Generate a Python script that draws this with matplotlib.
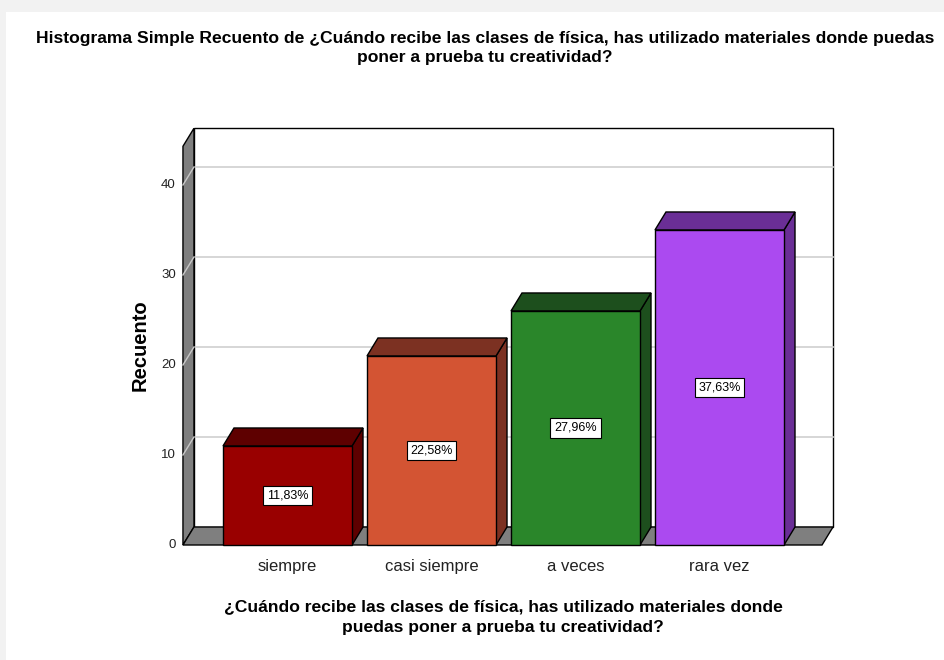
import matplotlib.pyplot as plt
from matplotlib.patches import Polygon, Rectangle

plt.rcParams['font.family'] = ['Liberation Sans', 'DejaVu Sans']

# data
categories = ['siempre', 'casi siempre', 'a veces', 'rara vez']
counts = [11, 21, 26, 35]
front_colors = ['#990000', '#d35433', '#2a862a', '#ab4af0']
side_colors = ['#5e0000', '#7c3122', '#1d4f1d', '#6a2e96']
y_ticks = [0, 10, 20, 30, 40]

title = ("Histograma Simple Recuento de ¿Cuándo recibe las clases de física, has utilizado materiales donde puedas\n"
         "poner a prueba tu creatividad?")
xlabel = ("¿Cuándo recibe las clases de física, has utilizado materiales donde\n"
          "puedas poner a prueba tu creatividad?")
ylabel = "Recuento"

W, H = 945, 660
fig = plt.figure(figsize=(W / 100, H / 100), dpi=100)
fig.patch.set_facecolor('#f2f2f2')
fig.patches.append(Rectangle((6 / W, 0), 1, (H - 12) / H, transform=fig.transFigure,
                             facecolor='white', edgecolor='none', zorder=-5))

# axes laid out so that 1 category = 144 px, 1 count = 9 px
ax = fig.add_axes([150 / W, 100 / H, 700 / W, 450 / H])
ax.set_zorder(2)
ax.set_xlim(-0.9549, 3.9063)
ax.set_ylim(-1.667, 48.33)
ax.axis('off')

x0, x1 = -0.726, 3.712       # front plane left/right
dx, dy = 11 / 144, 2.0        # 3d depth offset
ymax = 44.3
bar_w = 0.896
grid_c = '#d0d0d0'

# back wall
ax.add_patch(Rectangle((x0 + dx, dy), x1 - x0, ymax, facecolor='white',
                       edgecolor='black', linewidth=1, zorder=1))
for v in y_ticks[1:]:
    ax.plot([x0 + dx, x1 + dx], [v + dy, v + dy], color=grid_c, lw=1.2, zorder=1.5)

# left wall and floor
ax.add_patch(Polygon([(x0, 0), (x0 + dx, dy), (x0 + dx, ymax + dy), (x0, ymax)],
                     closed=True, facecolor='#7f7f7f', edgecolor='black', lw=1, zorder=2))
ax.add_patch(Polygon([(x0, 0), (x1, 0), (x1 + dx, dy), (x0 + dx, dy)],
                     closed=True, facecolor='#7f7f7f', edgecolor='black', lw=1, zorder=2))
for v in y_ticks[1:]:
    ax.plot([x0, x0 + dx], [v, v + dy], color='#c8c8c8', lw=1.0, zorder=2.5)

# bars
xs = list(range(len(categories)))
ax.bar(xs, counts, width=bar_w, color=front_colors, edgecolor='black', linewidth=1, zorder=4)
total = sum(counts)
for x, c, sc in zip(xs, counts, side_colors):
    xl, xr = x - bar_w / 2, x + bar_w / 2
    ax.add_patch(Polygon([(xr, 0), (xr + dx, dy), (xr + dx, c + dy), (xr, c)],
                         closed=True, facecolor=sc, edgecolor='black', lw=1, zorder=3.5))
    ax.add_patch(Polygon([(xl, c), (xr, c), (xr + dx, c + dy), (xl + dx, c + dy)],
                         closed=True, facecolor=sc, edgecolor='black', lw=1, zorder=3.5))
    pct = f"{c / total * 100:.2f}%".replace('.', ',')
    ax.text(x, c / 2, pct, ha='center', va='center', fontsize=9, zorder=5,
            bbox=dict(boxstyle='square,pad=0.3', facecolor='white', edgecolor='black', lw=0.8))

# tick labels
for v in y_ticks:
    ax.text(x0 - 0.05, v, str(v), ha='right', va='center', fontsize=9.5, color='#222222')
for x, cat in zip(xs, categories):
    ax.text(x, -2.35, cat, ha='center', va='center', fontsize=12, color='#222222')

fig.text(485 / W, 1 - 48 / H, title, ha='center', va='center', fontsize=12.6,
         fontweight='bold', linespacing=1.35)
fig.text(503 / W, 1 - 617 / H, xlabel, ha='center', va='center', fontsize=12.6,
         fontweight='bold', linespacing=1.45)
fig.text(140 / W, 1 - 345 / H, ylabel, ha='center', va='center', rotation=90,
         fontsize=14.5, fontweight='bold')

fig.savefig('out.png', dpi=100)
